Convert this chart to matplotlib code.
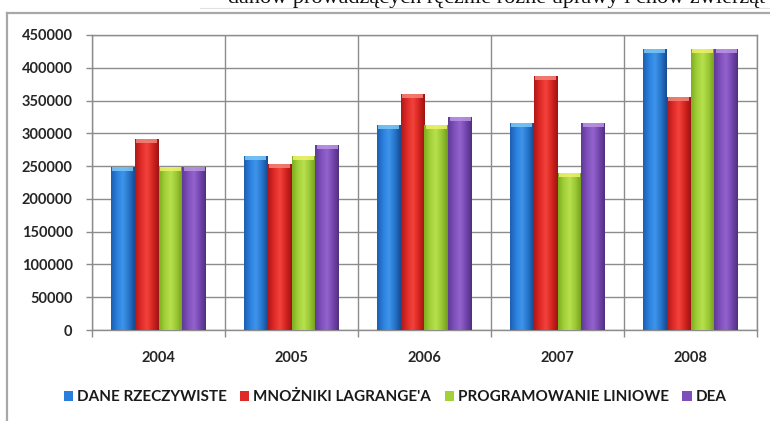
import numpy as np
import matplotlib
matplotlib.use("Agg")
import matplotlib.pyplot as plt
from matplotlib.colors import LinearSegmentedColormap
from matplotlib.patches import Patch
from matplotlib.lines import Line2D

years = ["2004", "2005", "2006", "2007", "2008"]
series_names = ["DANE RZECZYWISTE", "MNOŻNIKI LAGRANGE'A", "PROGRAMOWANIE LINIOWE", "DEA"]
dane = [249000, 265000, 313000, 316000, 428000]
mnozniki = [291000, 253000, 360000, 388000, 356000]
programowanie = [249000, 265000, 312000, 240000, 428000]
dea = [249000, 282000, 325000, 316000, 428000]
yticks = [0, 50000, 100000, 150000, 200000, 250000, 300000, 350000, 400000, 450000]
top_text = "danów prowadzących ręcznie różne uprawy i chów zwierząt"

values = [dane, mnozniki, programowanie, dea]
base_colors = ["#2a7fdc", "#e02a28", "#a2d13a", "#7f4fbb"]
grads = [
    ["#1d5fb0", "#2a80de", "#3f95ea", "#2676cc", "#184a90"],
    ["#b01818", "#e02a28", "#f2433b", "#d42420", "#9c1414"],
    ["#7fae1f", "#a2d13a", "#b8e04e", "#98c633", "#739c1c"],
    ["#5e3a96", "#7f4fbb", "#9364cc", "#7546b0", "#50307e"],
]
caps = ["#7cc8f6", "#f2857a", "#eef26a", "#bb95e6"]

plt.rcParams["font.family"] = ["Lato", "DejaVu Sans"]

W, H = 770, 421
fig = plt.figure(figsize=(W / 100, H / 100), dpi=100)
fig.patch.set_facecolor("white")

# outer frame and cropped caption text above the chart
fig.add_artist(Line2D([7 / W, 1.0], [1 - 13 / H, 1 - 13 / H], color="#a8a8a8", lw=1.6, transform=fig.transFigure))
fig.add_artist(Line2D([7 / W, 7 / W], [0, 1 - 13 / H], color="#a8a8a8", lw=1.6, transform=fig.transFigure))
fig.add_artist(Line2D([200 / W, 1.0], [1 - 7.5 / H, 1 - 7.5 / H], color="#e2e2e2", lw=0.8, transform=fig.transFigure))
fig.text(228 / W, 1 - 3.5 / H, top_text, family=["Liberation Serif", "DejaVu Serif"],
         fontsize=16, ha="left", va="baseline", color="#111111")

ax = fig.add_axes([92 / W, 1 - 330 / H, (757 - 92) / W, (330 - 35) / H])

n = len(values)
bw = 0.18
x = np.arange(len(years))
ycap = 6000
for i, (vals, col) in enumerate(zip(values, base_colors)):
    pos = x + (i - (n - 1) / 2) * bw
    bars = ax.bar(pos, vals, width=bw, color=col, zorder=3, linewidth=0)
    cmap = LinearSegmentedColormap.from_list("g%d" % i, grads[i])
    grad = np.linspace(0, 1, 64).reshape(1, -1)
    for b in bars:
        x0, w, h = b.get_x(), b.get_width(), b.get_height()
        im = ax.imshow(grad, extent=[x0, x0 + w, 0, h], aspect="auto", cmap=cmap,
                       zorder=3.1, interpolation="bilinear")
        im.set_clip_path(b)
    ax.bar(pos, [ycap] * len(vals), bottom=[v - ycap for v in vals], width=bw * 0.9,
           color=caps[i], zorder=3.2, linewidth=0, alpha=0.85)

ax.set_xlim(-0.5, len(years) - 0.5)
ax.set_ylim(0, 450000)
ax.set_yticks(yticks)
ax.set_yticklabels([str(v) for v in yticks], fontweight="bold")
ax.set_xticks(x)
ax.set_xticklabels(years, fontweight="bold")
ax.set_xticks(np.arange(-0.5, len(years), 1.0), minor=True)

ax.grid(axis="y", color="#8c8c8c", lw=1.0, zorder=0)
ax.grid(axis="x", which="minor", color="#8c8c8c", lw=1.0, zorder=0)
for s in ax.spines.values():
    s.set_color("#8c8c8c")
    s.set_linewidth(1.0)
ax.tick_params(axis="y", length=4.5, width=1, color="#8c8c8c", pad=9.5, labelsize=10.5, labelcolor="#262626")
ax.tick_params(axis="x", which="major", length=0, pad=15, labelsize=10.5, labelcolor="#262626")
ax.tick_params(axis="x", which="minor", length=5, width=1, color="#8c8c8c")

handles = [Patch(facecolor=c, edgecolor="none") for c in base_colors]
fig.legend(handles, series_names, loc="center", bbox_to_anchor=(395 / W, 1 - 397 / H),
           ncol=4, frameon=False, handlelength=0.6, handleheight=0.6,
           handletextpad=0.25, columnspacing=0.9, labelcolor="#1a1a1a",
           prop={"size": 11, "weight": "bold"})

fig.savefig("out.png", dpi=100, facecolor="white")
